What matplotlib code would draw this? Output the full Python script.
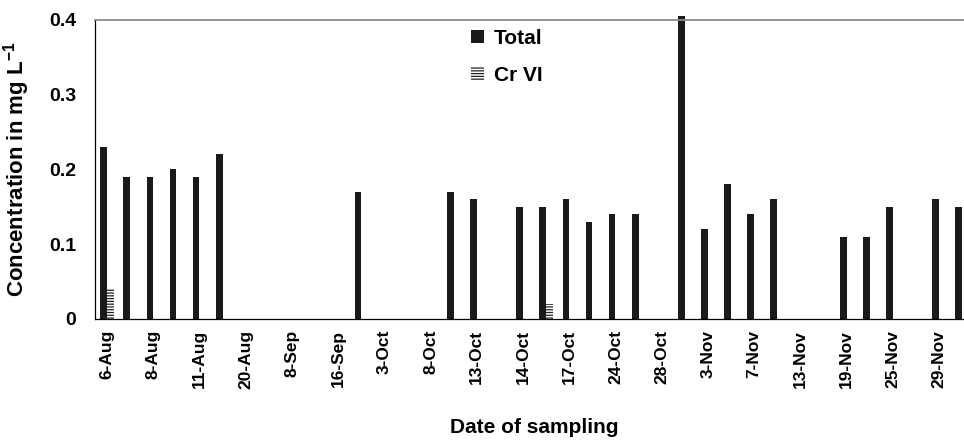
import matplotlib
matplotlib.use("Agg")
import matplotlib.pyplot as plt
import numpy as np

plt.rcParams['font.family'] = ['Liberation Sans', 'DejaVu Sans']
plt.rcParams['hatch.linewidth'] = 0.9

# sampling dates (only every other one is labelled on the axis)
tick_labels = ["6-Aug", "", "8-Aug", "", "11-Aug", "", "20-Aug", "", "8-Sep", "",
               "16-Sep", "", "3-Oct", "", "8-Oct", "", "13-Oct", "", "14-Oct", "",
               "17-Oct", "", "24-Oct", "", "28-Oct", "", "3-Nov", "", "7-Nov", "",
               "13-Nov", "", "19-Nov", "", "25-Nov", "", "29-Nov", ""]
total = [0.23, 0.19, 0.19, 0.20, 0.19, 0.22, 0, 0, 0, 0,
         0, 0.17, 0, 0, 0, 0.17, 0.16, 0, 0.15, 0.15,
         0.16, 0.13, 0.14, 0.14, 0, 0.405, 0.12, 0.18, 0.14, 0.16,
         0, 0, 0.11, 0.11, 0.15, 0, 0.16, 0.15]
cr_vi = [0.04, 0, 0, 0, 0, 0, 0, 0, 0, 0,
         0, 0, 0, 0, 0, 0, 0, 0, 0, 0.02,
         0, 0, 0, 0, 0, 0, 0, 0, 0, 0,
         0, 0, 0, 0, 0, 0, 0, 0]

x = np.arange(len(tick_labels))
w = 0.29

fig = plt.figure(figsize=(9.64, 4.43), dpi=100)
ax = fig.add_axes([0.099, 0.28, 0.911, 0.675])

ax.bar(x - w/2, total, w, color="#1a1a1a", label="Total", clip_on=False)
ax.bar(x + w/2, cr_vi, w, color="white", edgecolor="#222222", linewidth=0,
       hatch="------", label="Cr VI", clip_on=False)

ax.set_xlim(-0.5, len(x) - 0.5)
ax.set_ylim(0, 0.4)
ax.set_yticks([0, 0.1, 0.2, 0.3, 0.4])
ax.set_yticklabels(["0", "0.1", "0.2", "0.3", "0.4"])
ax.set_xticks(x)
ax.set_xticklabels(tick_labels, rotation=90)

ax.tick_params(axis='y', length=0, pad=14, labelsize=14)
ax.tick_params(axis='x', length=0, pad=8, labelsize=12.5)
for t in ax.get_xticklabels() + ax.get_yticklabels():
    t.set_fontweight('bold')

ax.spines['right'].set_visible(False)
ax.spines['top'].set_color("#8a8a8a")
ax.spines['top'].set_linewidth(1.3)
ax.spines['left'].set_linewidth(0.9)
ax.spines['bottom'].set_linewidth(0.9)

ax.set_ylabel(r"Concentration in mg L$^{\mathregular{-1}}$", fontsize=16,
              fontweight='bold', labelpad=12)
ax.set_xlabel("Date of sampling", fontsize=15, fontweight='bold', labelpad=21)

fig.legend(loc='upper left', bbox_to_anchor=(0.478, 0.958), frameon=False,
           prop={'weight': 'bold', 'size': 15},
           handlelength=0.6, handleheight=0.6, handletextpad=0.5,
           labelspacing=0.85, borderpad=0)

fig.savefig("out.png", dpi=100)
